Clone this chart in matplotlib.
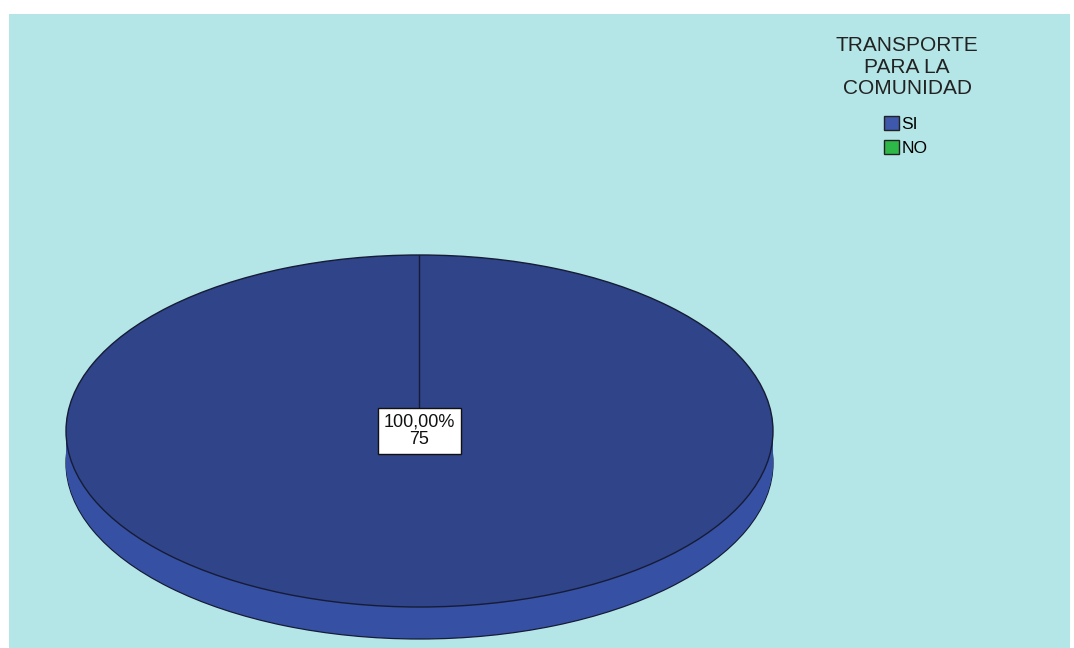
import numpy as np
import matplotlib
matplotlib.use("Agg")
import matplotlib.pyplot as plt
from matplotlib.patches import Rectangle, Patch

plt.rcParams['font.family'] = ['Liberation Sans', 'DejaVu Sans']

# datos
categorias = ['SI', 'NO']
frecuencias = [75, 0]
titulo_leyenda = 'TRANSPORTE\nPARA LA\nCOMUNIDAD'

colores = ['#3E58AC', '#2EB848']      # colores base (leyenda)
color_cara = '#2F4489'                # cara superior
color_lado = '#3650A4'                # costado 3D
color_borde = '#161c36'

W, H = 1074, 648
fig = plt.figure(figsize=(W / 100, H / 100), dpi=100)
fig.patch.set_facecolor('white')
# fondo celeste
fig.add_artist(Rectangle((9 / W, 0), 1061 / W, 634 / H, transform=fig.transFigure,
                         facecolor='#B4E6E7', edgecolor='none', zorder=0))

ax = fig.add_axes([0, 0, 1, 1])

# geometria de la elipse en pixeles
cx, cy = 419.5, 431.0
rx, ry = 353.5, 176.0
prof = 32.0 / ry

# costado (varias capas de la torta desplazadas hacia abajo)
capas = np.linspace(prof, 0, 30)[:-1]
for i, z in enumerate(capas):
    lw = 0.9 if i == 0 else 0
    ax.pie(frecuencias, colors=[color_lado, colores[1]], startangle=90, counterclock=False,
           center=(0, -z), wedgeprops=dict(linewidth=lw, edgecolor=color_borde))

# cara superior
wedges, _ = ax.pie(frecuencias, colors=[color_cara, colores[1]], startangle=90,
                   counterclock=False, center=(0, 0),
                   wedgeprops=dict(linewidth=1.0, edgecolor=color_borde))

ax.set_aspect('auto')
ax.set_xlim(-cx / rx, (W - cx) / rx)
ax.set_ylim((cy - H) / ry, cy / ry)
ax.set_frame_on(False)
ax.set_xticks([])
ax.set_yticks([])

# etiqueta
total = sum(frecuencias)
pct = frecuencias[0] / total * 100
etiqueta = f"{pct:.2f}".replace('.', ',') + "%\n" + str(frecuencias[0])
ax.text(0, 0, etiqueta, ha='center', va='center', fontsize=13, linespacing=1.05,
        color='#111111',
        bbox=dict(boxstyle='square,pad=0.3', facecolor='white', edgecolor='#111111', linewidth=1))

# titulo de la leyenda
fig.text(907 / W, 1 - 36 / H, titulo_leyenda, ha='center', va='top', fontsize=15,
         linespacing=1.17, color='#222222')

# leyenda
handles = [Patch(facecolor=c, edgecolor='#222222', linewidth=1) for c in colores]
leg = fig.legend(handles, categorias, loc='upper center',
                 bbox_to_anchor=(906 / W, 1 - 107 / H), frameon=False, fontsize=12.5,
                 handlelength=0.85, handleheight=0.9, handletextpad=0.15,
                 labelspacing=0.45, borderpad=0)

fig.savefig('out.png', dpi=100, facecolor=fig.get_facecolor())
